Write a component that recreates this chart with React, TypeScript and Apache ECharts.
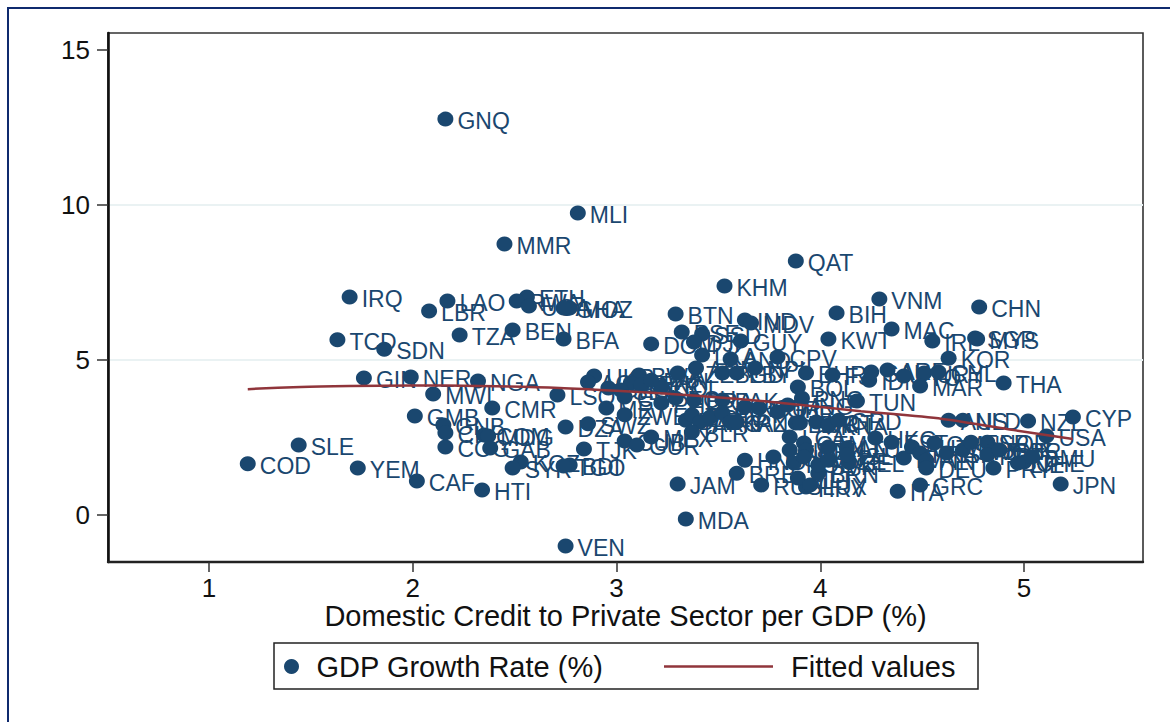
import React, { useEffect, useRef } from "react";
import * as echarts from "echarts";

const NAVY = "#1a476f";
const FONT = "'Liberation Sans', Arial, sans-serif";

const countryPoints: [string, number, number][] = [
  ["GNQ", 2.16, 12.77], ["MLI", 2.81, 9.74], ["MMR", 2.45, 8.74], ["QAT", 3.88, 8.19],
  ["KHM", 3.53, 7.39], ["IRQ", 1.69, 7.03], ["ETH", 2.56, 7.03], ["LAO", 2.17, 6.90],
  ["RWA", 2.51, 6.90], ["UGA", 2.57, 6.74], ["MOZ", 2.77, 6.68], ["GHA", 2.74, 6.68],
  ["LBR", 2.08, 6.58], ["BIH", 4.08, 6.52], ["VNM", 4.29, 6.97], ["CHN", 4.78, 6.71],
  ["BTN", 3.29, 6.48], ["IND", 3.63, 6.29], ["MDV", 3.66, 6.19], ["BEN", 2.49, 5.97],
  ["TZA", 2.23, 5.81], ["MAC", 4.35, 6.00], ["BFA", 2.74, 5.68], ["TCD", 1.63, 5.65],
  ["KWT", 4.04, 5.68], ["SDN", 1.86, 5.35], ["IRL", 4.55, 5.61], ["SGP", 4.76, 5.71],
  ["MYS", 4.77, 5.68], ["KOR", 4.63, 5.06], ["DOM", 3.17, 5.52], ["PSE", 3.32, 5.90],
  ["SSD", 3.42, 5.84], ["DJI", 3.38, 5.58], ["GUY", 3.61, 5.61], ["LKA", 3.42, 5.16],
  ["AND", 3.56, 5.03], ["CPV", 3.79, 5.10], ["ARM", 3.39, 4.74], ["BGD", 3.52, 4.58],
  ["LBY", 3.59, 4.58], ["NPL", 3.68, 4.74], ["BHR", 3.93, 4.58], ["FJI", 4.06, 4.52],
  ["IDN", 4.24, 4.35], ["SAU", 4.25, 4.61], ["ARE", 4.33, 4.68], ["TTO", 4.41, 4.48],
  ["URY", 4.51, 4.58], ["CHL", 4.58, 4.61], ["BOL", 3.89, 4.13], ["PNG", 3.91, 3.77],
  ["THA", 4.90, 4.26], ["MAR", 4.49, 4.16], ["TUN", 4.18, 3.68], ["UKR", 2.89, 4.48],
  ["AGO", 2.86, 4.29], ["GEO", 2.96, 4.10], ["BWA", 3.11, 4.52], ["KEN", 3.07, 4.26],
  ["PER", 3.12, 4.19], ["SEN", 3.02, 4.03], ["COL", 3.22, 4.13], ["AZE", 3.30, 4.58],
  ["PAN", 3.17, 4.35], ["CRI", 3.04, 3.81], ["MRT", 2.95, 3.45], ["ZWE", 3.04, 3.23],
  ["PHL", 3.22, 3.61], ["ECU", 3.29, 3.77], ["BRA", 3.38, 3.71], ["BLZ", 3.34, 3.06],
  ["ZAF", 3.37, 3.23], ["ARG", 3.41, 3.00], ["SLV", 3.46, 3.16], ["PAK", 3.52, 3.71],
  ["EGY", 3.52, 3.29], ["KAZ", 3.56, 3.00], ["IRN", 3.59, 3.00], ["ROU", 3.63, 3.48],
  ["BGR", 3.70, 3.45], ["JOR", 3.79, 3.32], ["MNG", 3.84, 3.55], ["LBN", 3.88, 2.97],
  ["BLR", 3.37, 2.68], ["MEX", 3.17, 2.52], ["CUB", 3.04, 2.39], ["GUR", 3.10, 2.26],
  ["COD", 1.19, 1.65], ["SLE", 1.44, 2.26], ["YEM", 1.73, 1.52], ["CAF", 2.02, 1.10],
  ["HTI", 2.34, 0.81], ["GIN", 1.76, 4.42], ["NER", 1.99, 4.45], ["NGA", 2.32, 4.32],
  ["MWI", 2.10, 3.90], ["CMR", 2.39, 3.45], ["GMB", 2.01, 3.19], ["GNB", 2.15, 2.90],
  ["CIV", 2.16, 2.65], ["COG", 2.16, 2.19], ["COM", 2.35, 2.58], ["MDG", 2.37, 2.55],
  ["GAB", 2.38, 2.16], ["KGZ", 2.53, 1.71], ["SYR", 2.49, 1.52], ["BDI", 2.77, 1.61],
  ["TGO", 2.74, 1.58], ["LSO", 2.71, 3.87], ["DZA", 2.75, 2.84], ["SWZ", 2.86, 2.94],
  ["TJK", 2.84, 2.13], ["JAM", 3.30, 1.00], ["MDA", 3.34, -0.13], ["VEN", 2.75, -1.00],
  ["HND", 3.63, 1.77], ["BRB", 3.59, 1.35], ["RUS", 3.71, 0.97], ["HRV", 3.93, 0.90],
  ["ITA", 4.38, 0.77], ["GRC", 4.49, 0.97], ["JPN", 5.18, 1.00], ["CYP", 5.24, 3.16],
  ["NZL", 5.02, 3.03], ["USA", 5.11, 2.55], ["AUS", 4.63, 3.06], ["NLD", 4.70, 3.06],
  ["TUR", 3.90, 2.97], ["VCT", 3.98, 3.00], ["KNA", 4.04, 2.90], ["GRD", 4.09, 3.06],
  ["LCA", 3.85, 2.52], ["GTM", 3.92, 2.32], ["NIC", 3.85, 2.10], ["PRK", 3.93, 2.10],
  ["CAN", 4.04, 2.19], ["LTU", 4.13, 2.16], ["HKG", 4.27, 2.48], ["EST", 4.35, 2.35],
  ["LVA", 4.41, 1.84], ["BEL", 4.14, 1.71], ["HUN", 3.77, 1.87], ["POL", 3.87, 1.68],
  ["SVN", 3.92, 1.87], ["BRN", 3.99, 1.35], ["MLT", 3.89, 1.19], ["LUX", 3.95, 0.97],
  ["SVK", 3.99, 1.61], ["CZE", 4.04, 1.77], ["ISL", 4.13, 1.94], ["AUT", 4.45, 2.19],
  ["OMN", 4.56, 2.32], ["FRA", 4.49, 2.00], ["FIN", 4.52, 1.77], ["DEU", 4.52, 1.52],
  ["ISR", 4.62, 2.00], ["SWE", 4.70, 2.10], ["ESP", 4.74, 2.35], ["NOR", 4.82, 2.35],
  ["DNK", 4.85, 2.10], ["PRY", 4.85, 1.52], ["PRT", 4.82, 1.94], ["GBR", 4.88, 2.10],
  ["CHE", 5.00, 1.71], ["LIE", 4.97, 1.68], ["BMU", 5.04, 1.87],
];

const fitCredit = [1.19, 1.45, 1.69, 2, 2.33, 2.72, 3.02, 3.41, 3.71, 4.2, 4.6, 4.95, 5.24];
const fitGrowth = [4.06, 4.13, 4.16, 4.18, 4.16, 4.1, 4.0, 3.84, 3.68, 3.35, 3.1, 2.74, 2.45];

const xTicks = [1, 2, 3, 4, 5];
const yTicks = [0, 5, 10, 15];

export default function App() {
  const ref = useRef<HTMLDivElement>(null);
  useEffect(() => {
    const chart = echarts.init(ref.current!, null, { renderer: "svg" });
    chart.setOption({
      animation: false,
      backgroundColor: "#ffffff",
      grid: {
        left: 108, top: 33, width: 1035, height: 529,
        show: true, borderColor: "#333333", borderWidth: 1.6, backgroundColor: "transparent",
      },
      graphic: [
        {
          type: "polyline", silent: true, z: -1,
          shape: { points: [[8, 722], [8, 8], [1170, 8]] },
          style: { fill: "none", stroke: "#0f2a6e", lineWidth: 2 },
        },
        {
          type: "rect", silent: true, z: -1,
          shape: { x: 274, y: 643, width: 704, height: 46 },
          style: { fill: "#ffffff", stroke: "#222222", lineWidth: 1.5 },
        },
      ],
      legend: [
        {
          data: [{ name: "GDP Growth Rate (%)", icon: "circle" }],
          left: 284, top: 652, padding: 0, itemWidth: 16, itemHeight: 15, itemGap: 0,
          selectedMode: false,
          textStyle: { color: "#111", fontSize: 29, fontFamily: FONT, padding: [4, 0, 0, 12] },
        },
        {
          data: [{ name: "Fitted values", icon: "rect" }],
          left: 664, top: 652, padding: 0, itemWidth: 109, itemHeight: 2.5, itemGap: 0,
          selectedMode: false,
          textStyle: { color: "#111", fontSize: 29, fontFamily: FONT, padding: [4, 0, 0, 13] },
        },
      ],
      xAxis: {
        type: "value",
        min: 0.504, max: 5.584, interval: 1,
        name: "Domestic Credit to Private Sector per GDP (%)",
        nameLocation: "middle", nameGap: 39, nameMoveOverlap: false,
        nameTextStyle: { color: "#111", fontSize: 29, fontFamily: FONT },
        axisLine: { show: true, onZero: false, lineStyle: { color: "#222", width: 2.4 } },
        axisTick: { show: true, customValues: xTicks, length: 10, lineStyle: { color: "#333", width: 1.5 } },
        axisLabel: { customValues: xTicks, color: "#111", fontSize: 26, fontFamily: FONT, margin: 13 },
        splitLine: { show: false },
      },
      yAxis: {
        type: "value",
        min: -1.516, max: 15.548, interval: 5,
        axisLine: { show: true, onZero: false, lineStyle: { color: "#111", width: 2.6 } },
        axisTick: { show: true, customValues: yTicks, length: 11, lineStyle: { color: "#333", width: 1.5 } },
        axisLabel: { customValues: yTicks, color: "#111", fontSize: 26, fontFamily: FONT, margin: 18 },
        splitLine: { show: true, showMinLine: false, showMaxLine: false, lineStyle: { color: "#eaf2f3", width: 2 } },
      },
      series: [
        {
          name: "GDP Growth Rate (%)",
          type: "scatter",
          symbol: "circle",
          symbolSize: [16, 15],
          itemStyle: { color: NAVY, opacity: 1 },
          data: countryPoints.map(([code, x, y]) => ({ name: code, value: [x, y] })),
          label: {
            show: true, position: "right", distance: 4,
            formatter: (p: any) => p.name,
            color: NAVY, fontSize: 23, fontFamily: FONT,
          },
          labelLayout: { hideOverlap: false, dy: 2 },
          emphasis: { disabled: true },
          z: 2,
        },
        {
          name: "Fitted values",
          type: "line",
          data: fitCredit.map((x, i) => [x, fitGrowth[i]]),
          showSymbol: false,
          symbol: "none",
          smooth: 0.3,
          lineStyle: { color: "#90353b", width: 2.5 },
          itemStyle: { color: "#90353b" },
          z: 3,
        },
      ],
    });
    return () => chart.dispose();
  }, []);
  return <div ref={ref} style={{ position: "fixed", left: 0, top: 0, width: 1170, height: 722 }} />;
}
